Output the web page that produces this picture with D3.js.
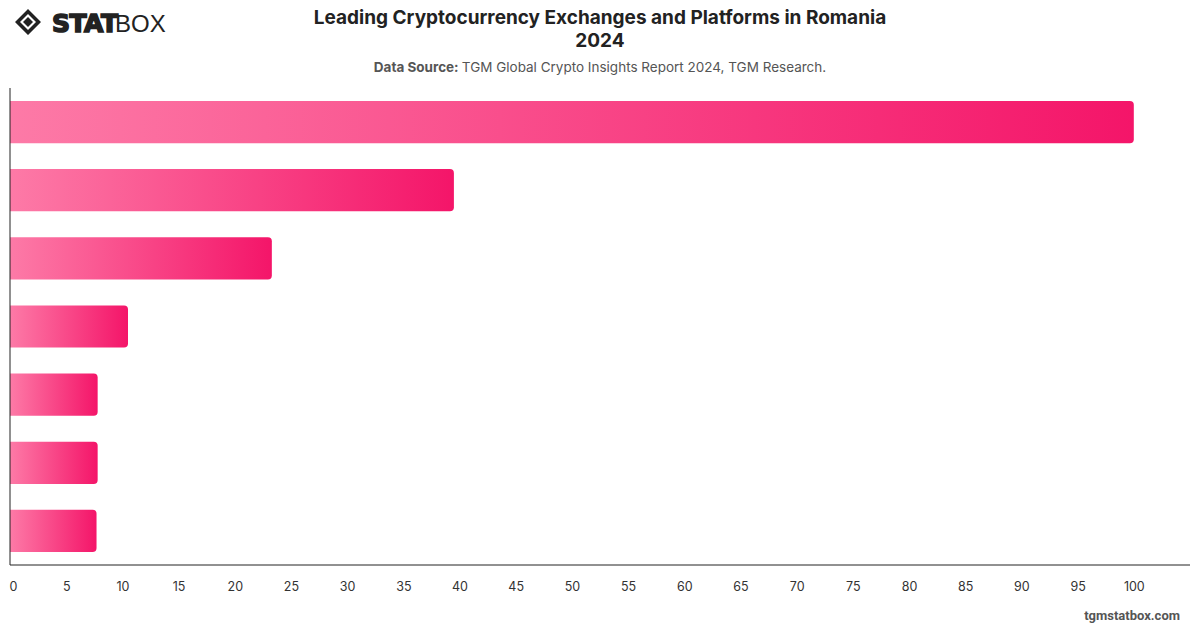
<!DOCTYPE html>
<html>
<head>
<meta charset="utf-8">
<script src="https://cdn.jsdelivr.net/npm/d3@7"></script>
<style>
  body { margin: 0; background: #fff; font-family: Inter, "Helvetica Neue", Arial, sans-serif; }
  svg { display: block; }
</style>
</head>
<body>
<svg id="chart" width="1200" height="628"></svg>
<script>
// data (category names are not printed on the chart)
const platforms = ["Binance", "Coinbase", "Revolut", "Kraken", "Bybit", "KuCoin", "OKX"];
const shares = [100, 39.5, 23.3, 10.5, 7.8, 7.8, 7.7];
const tickValues = [0, 5, 10, 15, 20, 25, 30, 35, 40, 45, 50, 55, 60, 65, 70, 75, 80, 85, 90, 95, 100];

const svg = d3.select("#chart");
const margin = { top: 88, right: 10, bottom: 63, left: 10 };
const width = 1200 - margin.left - margin.right;
const height = 628 - margin.top - margin.bottom;

// gradient for each bar
const defs = svg.append("defs");
const grad = defs.append("linearGradient")
    .attr("id", "barGrad")
    .attr("x1", "0%").attr("x2", "100%")
    .attr("y1", "0%").attr("y2", "0%");
grad.append("stop").attr("offset", "0%").attr("stop-color", "#fd7aa7");
grad.append("stop").attr("offset", "100%").attr("stop-color", "#f41569");

// title
svg.append("text")
    .attr("x", 600).attr("y", 24)
    .attr("text-anchor", "middle")
    .style("font-size", "19px").style("font-weight", "700").style("fill", "#222")
    .text("Leading Cryptocurrency Exchanges and Platforms in Romania");
svg.append("text")
    .attr("x", 600).attr("y", 47)
    .attr("text-anchor", "middle")
    .style("font-size", "19px").style("font-weight", "700").style("fill", "#222")
    .text("2024");
const sub = svg.append("text")
    .attr("x", 600).attr("y", 72)
    .attr("text-anchor", "middle")
    .style("font-size", "13.5px").style("fill", "#555");
sub.append("tspan").style("font-weight", "700").text("Data Source: ");
sub.append("tspan").text("TGM Global Crypto Insights Report 2024, TGM Research.");

// logo
const logo = svg.append("g").attr("transform", "translate(15,9)");
logo.append("path")
    .attr("d", "M13,0 L26,13 L13,26 L0,13 Z M13,5 L21,13 L13,21 L5,13 Z")
    .attr("fill", "#222").attr("fill-rule", "evenodd");
logo.append("path").attr("d", "M13,8 L18,13 L13,18 L8,13 Z").attr("fill", "#222");
logo.append("text")
    .attr("x", 37).attr("y", 23)
    .style("font-family", "'DejaVu Sans', sans-serif")
    .style("font-size", "25px").style("font-weight", "900").style("fill", "#222")
    .style("stroke", "#222").style("stroke-width", "1.6px")
    .style("letter-spacing", "-0.5px")
    .text("STAT");
logo.append("text")
    .attr("x", 100).attr("y", 23)
    .style("font-family", "'Liberation Sans', sans-serif")
    .style("font-size", "24px").style("font-weight", "400").style("fill", "#222")
    .text("BOX");

const g = svg.append("g").attr("transform", `translate(${margin.left},${margin.top})`);

const x = d3.scaleLinear().domain([0, 105]).range([0, width]);
const y = d3.scaleBand().domain(platforms).range([0, height]).paddingInner(0.38).paddingOuter(0.19);

// bars with rounded right end
const r = 4;
g.selectAll(".bar")
    .data(platforms)
    .join("path")
    .attr("class", "bar")
    .attr("fill", "url(#barGrad)")
    .attr("d", (d, i) => {
        const w = x(shares[i]), y0 = y(d), h = y.bandwidth();
        return `M0,${y0} H${w - r} Q${w},${y0} ${w},${y0 + r} V${y0 + h - r} Q${w},${y0 + h} ${w - r},${y0 + h} H0 Z`;
    });

// axes
g.append("line").attr("x1", 0).attr("x2", 0).attr("y1", 0).attr("y2", height)
    .attr("stroke", "#222").attr("stroke-width", 1);
g.append("line").attr("x1", 0).attr("x2", width).attr("y1", height).attr("y2", height)
    .attr("stroke", "#222").attr("stroke-width", 1);

const xAxis = g.append("g")
    .attr("transform", `translate(0,${height})`)
    .call(d3.axisBottom(x).tickValues(tickValues).tickSize(0).tickPadding(17));
xAxis.select(".domain").remove();
xAxis.selectAll("text")
    .style("font-family", "Inter, sans-serif")
    .style("font-size", "12.5px").style("fill", "#333");
xAxis.select(".tick text").attr("dx", 3);

// footer
svg.append("text")
    .attr("x", 1180).attr("y", 620)
    .attr("text-anchor", "end")
    .style("font-family", "Roboto, sans-serif")
    .style("font-size", "13px").style("font-weight", "700").style("fill", "#555")
    .text("tgmstatbox.com");
</script>
</body>
</html>
